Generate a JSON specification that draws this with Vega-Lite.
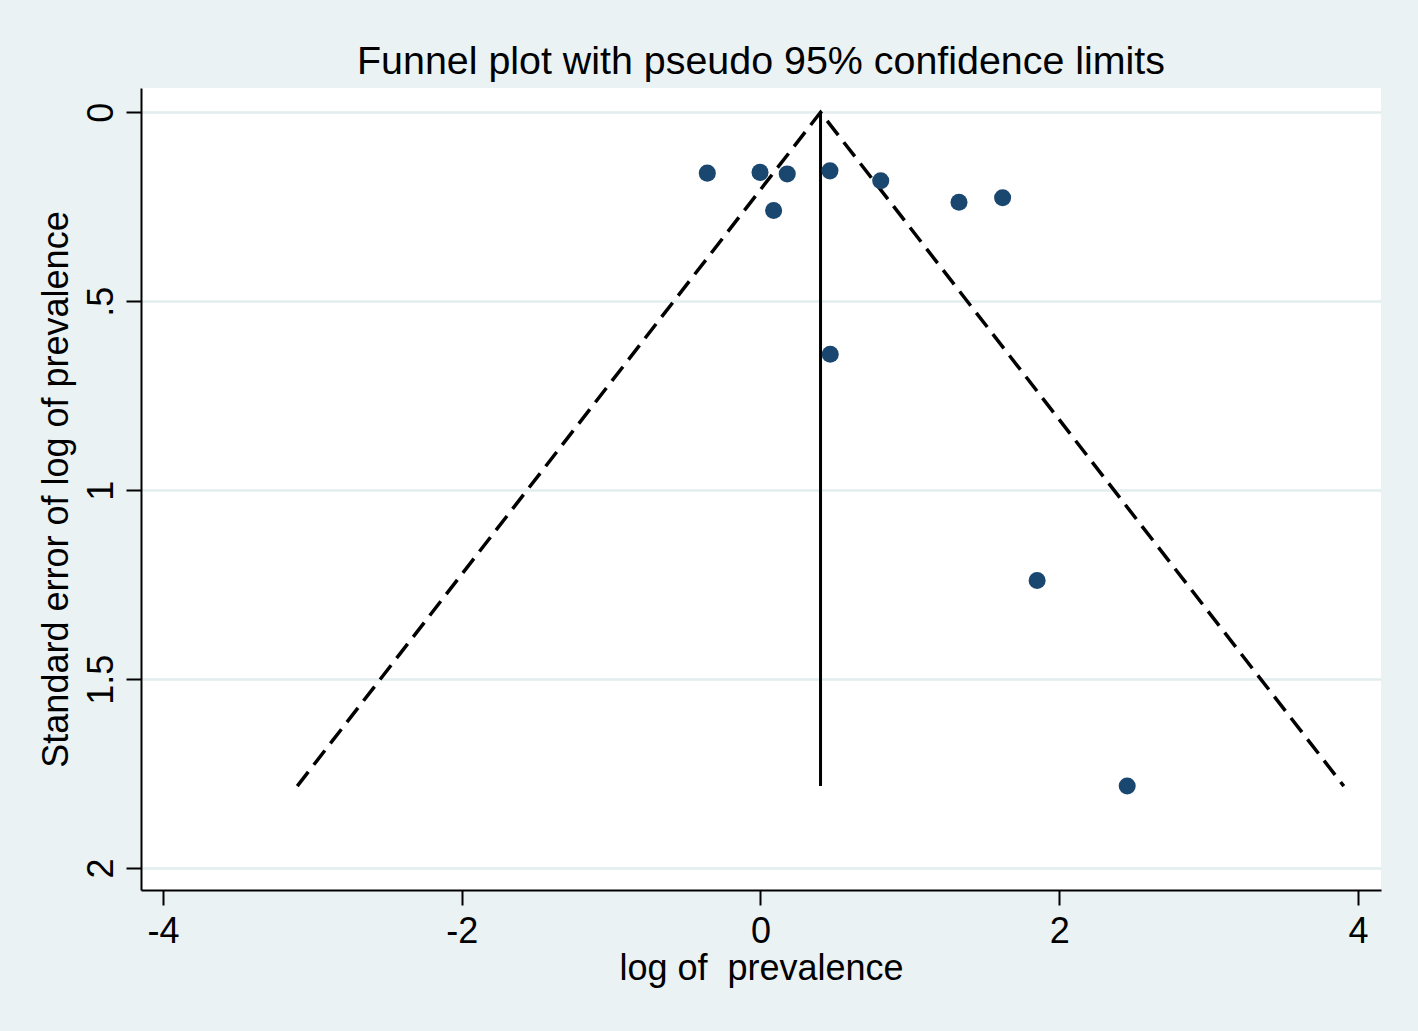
{
  "$schema": "https://vega.github.io/schema/vega-lite/v6.json",
  "width": 1240,
  "height": 802,
  "autosize": {"type": "none"},
  "padding": {"left": 141, "top": 88, "right": 37, "bottom": 141},
  "background": "#EAF2F3",
  "config": {
    "view": {"fill": "white", "stroke": null},
    "font": "Liberation Sans"
  },
  "title": {
    "text": "Funnel plot with pseudo 95% confidence limits",
    "fontSize": 39.4,
    "fontWeight": "normal",
    "color": "black",
    "font": "Liberation Sans",
    "anchor": "middle",
    "offset": 6
  },
  "datasets": {
    "studies": [
      {"logp": -0.356, "se": 0.161},
      {"logp": -0.003, "se": 0.159},
      {"logp": 0.179, "se": 0.163},
      {"logp": 0.465, "se": 0.155},
      {"logp": 0.805, "se": 0.181},
      {"logp": 0.088, "se": 0.260},
      {"logp": 1.329, "se": 0.238},
      {"logp": 1.621, "se": 0.226},
      {"logp": 0.467, "se": 0.640},
      {"logp": 1.852, "se": 1.239},
      {"logp": 2.455, "se": 1.783}
    ],
    "limits": [
      {"logp": -3.101, "se": 1.783},
      {"logp": 0.402, "se": 0},
      {"logp": 3.905, "se": 1.783}
    ],
    "pooled": [
      {"logp": 0.402, "se0": 0, "se1": 1.783}
    ]
  },
  "layer": [
    {
      "data": {"name": "limits"},
      "mark": {"type": "line", "color": "black", "strokeWidth": 3.5, "strokeDash": [18, 9], "strokeCap": "butt"},
      "encoding": {
        "x": {
          "field": "logp",
          "type": "quantitative",
          "scale": {"domain": [-4.147, 4.154], "nice": false, "zero": false},
          "axis": {
            "values": [-4, -2, 0, 2, 4],
            "labelExpr": "datum.value < 0 ? '-' + abs(datum.value) : '' + datum.value",
            "grid": false,
            "domainColor": "black",
            "domainWidth": 2,
            "tickColor": "black",
            "tickWidth": 2,
            "tickSize": 15,
            "labelFontSize": 36,
            "labelColor": "black",
            "labelPadding": 9,
            "labelFont": "Liberation Sans",
            "title": "log of \u00a0prevalence",
            "titleFontSize": 36,
            "titleFontWeight": "normal",
            "titleColor": "black",
            "titleFont": "Liberation Sans",
            "titlePadding": 2
          }
        },
        "y": {
          "field": "se",
          "type": "quantitative",
          "scale": {"domain": [-0.0643, 2.058], "reverse": true, "nice": false, "zero": false},
          "axis": {
            "values": [0, 0.5, 1, 1.5, 2],
            "format": ".1~f",
            "labelExpr": "datum.label == '0.5' ? '.5' : datum.label",
            "grid": true,
            "gridColor": "#E3EDEF",
            "gridWidth": 2.5,
            "domainColor": "black",
            "domainWidth": 2,
            "tickColor": "black",
            "tickWidth": 2,
            "tickSize": 15,
            "labelFontSize": 36,
            "labelColor": "black",
            "labelAngle": -90,
            "labelAlign": "center",
            "labelBaseline": "alphabetic",
            "labelPadding": 14,
            "labelFont": "Liberation Sans",
            "title": "Standard error of log of prevalence",
            "titleFontSize": 36,
            "titleFontWeight": "normal",
            "titleColor": "black",
            "titleFont": "Liberation Sans",
            "titlePadding": 8
          }
        }
      }
    },
    {
      "data": {"name": "pooled"},
      "mark": {"type": "rule", "color": "black", "strokeWidth": 3},
      "encoding": {
        "x": {"field": "logp", "type": "quantitative"},
        "y": {"field": "se0", "type": "quantitative"},
        "y2": {"field": "se1"}
      }
    },
    {
      "data": {"name": "studies"},
      "mark": {"type": "circle", "color": "#1A476F", "opacity": 1, "size": 290},
      "encoding": {
        "x": {"field": "logp", "type": "quantitative"},
        "y": {"field": "se", "type": "quantitative"}
      }
    }
  ]
}
